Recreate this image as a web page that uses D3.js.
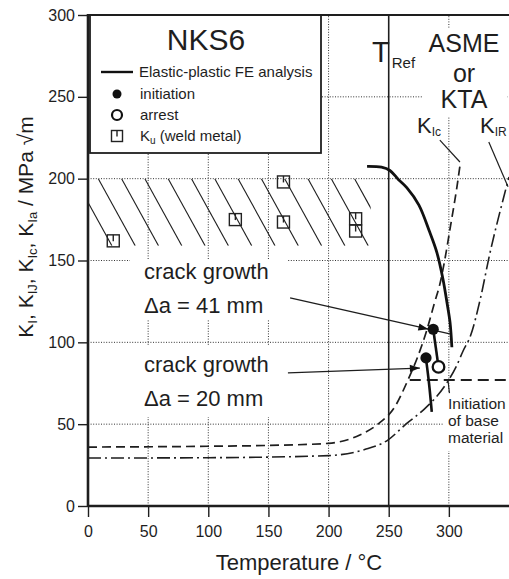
<!DOCTYPE html>
<html><head><meta charset="utf-8">
<script src="https://cdn.jsdelivr.net/npm/d3@7"></script>
<style>
body{margin:0;background:#fff}
svg{display:block}
text{font-family:"Liberation Sans",Arial,Helvetica,sans-serif;fill:#1e1e1e}
</style>
</head><body>
<svg id="c" width="509" height="579"></svg>
<script>
// ---------- data ----------
const xTicks = [0, 50, 100, 150, 200, 250, 300];
const yTicks = [0, 50, 100, 150, 200, 250, 300];
const xGrid = [50, 100, 150, 200, 300];
const yGrid = [50, 100, 150, 200, 250];
const tRef = 250;
// elastic-plastic FE analysis (T [°C], K [MPa√m])
const feCurve = [[232,207.5],[244,207],[251,205],[258,199.5],[265,194.5],[275,184],[284,167.5],[290,155],[295,139],[298.5,124],[301,112],[302.5,97]];
const feDrop41 = [[287,108],[291.4,85]];
const fe20 = [[281,90],[283.5,75],[285.8,57.5]];
const initiationPts = [[287,108],[281,90.5]];
const arrestPts = [[291.4,85]];
const kuWeld = [[21,162],[122.5,175],[162.5,198],[162.5,173.5],[222.5,175.5],[222.5,168]];
// ASME / KTA reference curves
const kIc = [[0,36],[100,36.5],[150,37],[200,38.3],[226,43.4],[241,50],[255,60.5],[266,77],[274,91],[281.7,107.5],[288,124],[293,137],[297,152],[300.8,168.6],[306.7,194.9],[309.7,210.4]];
const kIR = [[0,29.3],[100,29.5],[200,30.8],[230,34.5],[249.3,40.3],[265,50.5],[278.7,58.6],[298.1,75],[306,85],[312,95],[318,104],[326,126],[334,154],[345,187],[350,201]];
const baseInit = [[267.5,77],[350,77]];
const hatchBand = {t0: 0, t1: 235, k0: 159, k1: 200};
// annotations: [from, to], arrow tip temperature
const arrow41 = [[168,127.1],[300.8,105.1]];
const arrow41Tip = 283;
const arrow20 = [[166.2,81.3],[275.9,84.3]];
const leaderKIc = [[292.5,223.6],[309.2,210.2]];
const leaderKIR = [[333.2,222.4],[349.2,195]];
const leaderBase = [[300.5,69],[299.3,76.5]];

// ---------- scales ----------
const svg = d3.select("#c");
const x = d3.scaleLinear().domain([0, 350]).range([88, 509]);
const y = d3.scaleLinear().domain([0, 300]).range([506, 15]);
const P = d => [x(d[0]), y(d[1])];

const gridL = svg.append("g");
const bgL = svg.append("g");
const markL = svg.append("g");
const textL = svg.append("g");

// ---------- grid ----------
gridL.selectAll(".vg").data(xGrid).join("line")
  .attr("x1", d => x(d)).attr("x2", d => x(d)).attr("y1", y(0)).attr("y2", y(300))
  .attr("stroke", "#333").attr("stroke-width", 1).attr("stroke-dasharray", "1,1.6");
gridL.selectAll(".hg").data(yGrid).join("line")
  .attr("x1", x(0)).attr("x2", x(350)).attr("y1", d => y(d)).attr("y2", d => y(d))
  .attr("stroke", "#333").attr("stroke-width", 1).attr("stroke-dasharray", "1,1.6");

// hatch band (clipped diagonal lines)
const defs = svg.append("defs");
const hx0 = x(hatchBand.t0), hx1 = x(hatchBand.t1), hy0 = y(hatchBand.k1), hy1 = y(hatchBand.k0);
defs.append("clipPath").attr("id", "hclip").append("rect")
  .attr("x", hx0).attr("y", hy0).attr("width", hx1 - hx0).attr("height", hy1 - hy0);
const hSpacing = 23.3, hSlope = 0.55, hStart = 98.3;
const hH = hy1 - hy0;
const offs = d3.range(hStart - 4 * hSpacing, hx1 + hSpacing, hSpacing);
markL.append("g").attr("clip-path", "url(#hclip)").selectAll("line").data(offs).join("line")
  .attr("x1", d => d).attr("y1", hy0).attr("x2", d => d + hH * hSlope).attr("y2", hy1)
  .attr("stroke", "#1e1e1e").attr("stroke-width", 1.1);

// T_ref line
markL.append("line").attr("x1", x(tRef)).attr("x2", x(tRef)).attr("y1", y(0)).attr("y2", y(300))
  .attr("stroke", "#1e1e1e").attr("stroke-width", 1.6);

// ---------- axes ----------
const xa = svg.append("g").attr("transform", `translate(0,${y(0)})`)
  .call(d3.axisBottom(x).tickValues(xTicks).tickSize(11).tickPadding(9).tickFormat(d3.format("d")));
const ya = svg.append("g").attr("transform", `translate(${x(0)},0)`)
  .call(d3.axisLeft(y).tickValues(yTicks).tickSize(10).tickPadding(3).tickFormat(d3.format("d")));
[xa, ya].forEach(a => {
  a.select(".domain").remove();
  a.selectAll(".tick line").attr("stroke", "#1e1e1e").attr("stroke-width", 1.4);
  a.selectAll(".tick text").attr("font-size", 16).attr("fill", "#1e1e1e")
    .style("font-family", '"Liberation Sans",Arial,sans-serif');
});
svg.append("line").attr("x1", x(0)).attr("x2", x(350)).attr("y1", y(0)).attr("y2", y(0)).attr("stroke", "#1e1e1e").attr("stroke-width", 2.4);
svg.append("line").attr("x1", x(0)).attr("x2", x(0)).attr("y1", y(0) + 1).attr("y2", y(300) - 1).attr("stroke", "#1e1e1e").attr("stroke-width", 2.6);
svg.append("line").attr("x1", x(0)).attr("x2", x(350)).attr("y1", y(300)).attr("y2", y(300)).attr("stroke", "#1e1e1e").attr("stroke-width", 2.2);

// ---------- curves ----------
const lineM = d3.line().x(d => x(d[0])).y(d => y(d[1])).curve(d3.curveMonotoneX);
const lineC = d3.line().x(d => x(d[0])).y(d => y(d[1])).curve(d3.curveCatmullRom.alpha(0.5));
const lineL = d3.line().x(d => x(d[0])).y(d => y(d[1]));

markL.append("path").attr("d", lineM(kIc)).attr("fill", "none").attr("stroke", "#1e1e1e")
  .attr("stroke-width", 1.7).attr("stroke-dasharray", "9,5");
markL.append("path").attr("d", lineM(kIR)).attr("fill", "none").attr("stroke", "#1e1e1e")
  .attr("stroke-width", 1.6).attr("stroke-dasharray", "13,4,2,4");
markL.append("path").attr("d", lineL(baseInit)).attr("fill", "none").attr("stroke", "#1e1e1e")
  .attr("stroke-width", 1.8).attr("stroke-dasharray", "11,6");
markL.append("path").attr("d", lineC(feCurve)).attr("fill", "none").attr("stroke", "#111").attr("stroke-width", 2.8);
markL.append("path").attr("d", lineL(feDrop41)).attr("fill", "none").attr("stroke", "#111").attr("stroke-width", 2.6);
markL.append("path").attr("d", lineC(fe20)).attr("fill", "none").attr("stroke", "#111").attr("stroke-width", 2.6);

// leaders & arrows
[leaderKIc, leaderKIR, leaderBase].forEach(l =>
  markL.append("path").attr("d", lineL(l)).attr("stroke", "#1e1e1e").attr("stroke-width", 1.2).attr("fill", "none"));
[arrow41, arrow20].forEach(l =>
  markL.append("path").attr("d", lineL(l)).attr("stroke", "#1e1e1e").attr("stroke-width", 1.3).attr("fill", "none"));
function arrowHead(a, b, tipT) {
  const [x1, y1] = P(a), [x2, y2] = P(b);
  const ang = Math.atan2(y2 - y1, x2 - x1);
  const tx = x(tipT), ty = y1 + (y2 - y1) * (tx - x1) / (x2 - x1);
  const L = 10, W = 3.6;
  const bx = tx - L * Math.cos(ang), by = ty - L * Math.sin(ang);
  const pts = [[tx, ty], [bx - W * Math.sin(ang), by + W * Math.cos(ang)], [bx + W * Math.sin(ang), by - W * Math.cos(ang)]];
  markL.append("polygon").attr("points", pts.map(p => p.join(",")).join(" ")).attr("fill", "#111");
}
arrowHead(arrow41[0], arrow41[1], arrow41Tip);
arrowHead(arrow20[0], arrow20[1], arrow20[1][0]);

// points
markL.selectAll(".arr").data(arrestPts).join("circle")
  .attr("cx", d => x(d[0])).attr("cy", d => y(d[1])).attr("r", 5.8)
  .attr("fill", "#fff").attr("stroke", "#111").attr("stroke-width", 2.3);
markL.selectAll(".ini").data(initiationPts).join("circle")
  .attr("cx", d => x(d[0])).attr("cy", d => y(d[1])).attr("r", 5.6).attr("fill", "#111");
function kuSym(g, cx, cy, s) {
  g.append("rect").attr("x", cx - s / 2).attr("y", cy - s / 2).attr("width", s).attr("height", s)
    .attr("fill", "none").attr("stroke", "#222").attr("stroke-width", 1.4);
  g.append("line").attr("x1", cx).attr("x2", cx).attr("y1", cy - s / 2).attr("y2", cy + 0.5)
    .attr("stroke", "#222").attr("stroke-width", 1.4);
}
kuWeld.forEach(d => kuSym(markL, x(d[0]), y(d[1]), 12));

// ---------- legend ----------
const lg = textL.append("g");
lg.append("rect").attr("x", 90).attr("y", 15).attr("width", 231).attr("height", 138)
  .attr("fill", "#fff").attr("stroke", "#1e1e1e").attr("stroke-width", 1.8);
lg.append("text").attr("x", 206).attr("y", 50).attr("text-anchor", "middle").attr("font-size", 30).text("NKS6");
lg.append("line").attr("x1", 101).attr("x2", 133).attr("y1", 72).attr("y2", 72).attr("stroke", "#111").attr("stroke-width", 2.4);
lg.append("circle").attr("cx", 117).attr("cy", 94).attr("r", 4.5).attr("fill", "#111");
lg.append("circle").attr("cx", 117).attr("cy", 115).attr("r", 5).attr("fill", "#fff").attr("stroke", "#111").attr("stroke-width", 2.2);
kuSym(lg, 117, 136, 11);
const lfs = 15;
lg.append("text").attr("x", 139).attr("y", 77).attr("font-size", lfs).text("Elastic-plastic FE analysis");
lg.append("text").attr("x", 140).attr("y", 99).attr("font-size", lfs).text("initiation");
lg.append("text").attr("x", 140).attr("y", 120).attr("font-size", lfs).text("arrest");
const ku = lg.append("text").attr("x", 140).attr("y", 141).attr("font-size", lfs);
ku.append("tspan").text("K");
ku.append("tspan").attr("font-size", 10).attr("dy", 3).text("u");
ku.append("tspan").attr("dy", -3).text(" (weld metal)");

// ---------- text labels with white background ----------
function boxed(g, pad) {
  const b = g.node().getBBox();
  bgL.append("rect").attr("x", b.x - pad[0]).attr("y", b.y - pad[1])
    .attr("width", b.width + pad[0] + pad[2]).attr("height", b.height + pad[1] + pad[3]).attr("fill", "#fff");
}
function crackLabel(y1, y2, txt) {
  const g = textL.append("g");
  g.append("text").attr("x", 144).attr("y", y1).attr("font-size", 22).text("crack growth");
  g.append("text").attr("x", 144).attr("y", y2).attr("font-size", 22).text(txt);
  return g;
}
boxed(crackLabel(279, 313, "\u0394a = 41 mm"), [14, 0, 19, 2]);
boxed(crackLabel(372, 406, "\u0394a = 20 mm"), [14, 6, 19, 6]);

const tr = textL.append("g");
const trt = tr.append("text").attr("x", 372).attr("y", 62);
trt.append("tspan").attr("font-size", 29).text("T");
trt.append("tspan").attr("font-size", 15).attr("dy", 6).attr("dx", 2).text("Ref");
boxed(tr, [2, 6, 2, 1]);

const asme = textL.append("g");
[["ASME", 52], ["or", 82], ["KTA", 108]].forEach(([t, yy]) =>
  asme.append("text").attr("x", 464).attr("y", yy).attr("text-anchor", "middle").attr("font-size", 25).text(t));
boxed(asme, [6, 0, 8, 4]);

function kLabel(x0, sub) {
  const t = textL.append("text").attr("x", x0).attr("y", 133);
  t.append("tspan").attr("font-size", 22).text("K");
  t.append("tspan").attr("font-size", 12).attr("dy", 3).text(sub);
}
kLabel(417, "Ic");
kLabel(480, "IR");

const bi = textL.append("g");
[["Initiation", 409], ["of base", 426], ["material", 443]].forEach(([t, yy]) =>
  bi.append("text").attr("x", 448).attr("y", yy).attr("font-size", 15.5).text(t));
boxed(bi, [5, 3, 4, 5]);

// axis titles
svg.append("text").attr("x", 299).attr("y", 570).attr("text-anchor", "middle").attr("font-size", 22).text("Temperature / \u00B0C");
const yl = svg.append("text").attr("transform", "translate(33,227) rotate(-90)").attr("text-anchor", "middle").attr("font-size", 21);
[["K", "I", ", "], ["K", "IJ", ", "], ["K", "Ic", ", "], ["K", "Ia", " / MPa \u221Am"]].forEach(([k, s, tail]) => {
  yl.append("tspan").text(k);
  yl.append("tspan").attr("font-size", 13).attr("dy", 4).text(s);
  yl.append("tspan").attr("dy", -4).text(tail);
});
</script>
</body></html>
